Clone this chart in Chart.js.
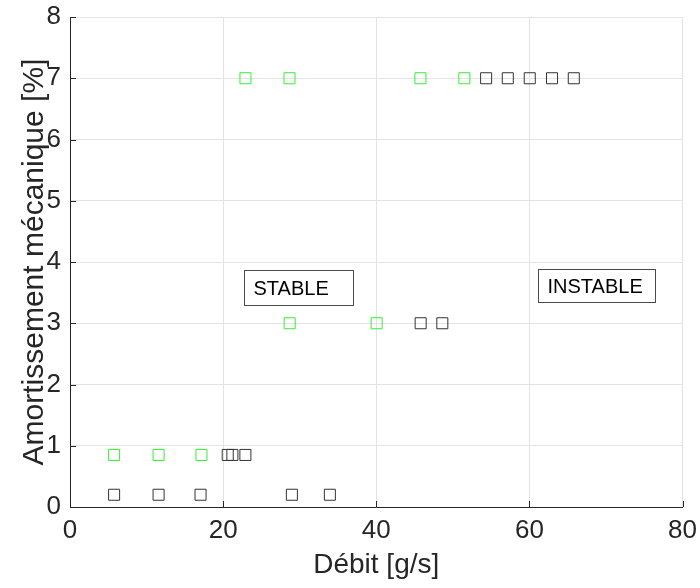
<!DOCTYPE html>
<html><head><meta charset="utf-8">
<script src="https://cdn.jsdelivr.net/npm/chart.js@4.4.1/dist/chart.umd.min.js"></script>
<style>html,body{margin:0;padding:0;background:#fff;}</style>
</head><body>
<canvas id="c" width="700" height="588"></canvas>
<script>
// Stable points (green)
const stableDebit = [5.76, 11.57, 17.17, 28.69, 40.05, 22.92, 28.67, 45.77, 51.51];
const stableAmort = [0.85, 0.85, 0.85, 3, 3, 7, 7, 7, 7];
// Unstable points (black)
const instableDebit = [5.76, 11.57, 17.05, 28.98, 33.94, 20.60, 21.21, 22.91, 45.80, 48.63, 54.35, 57.18, 60.05, 62.96, 65.80];
const instableAmort = [0.2, 0.2, 0.2, 0.2, 0.2, 0.85, 0.85, 0.85, 3, 3, 7, 7, 7, 7, 7];
// Axis ticks
const xTicks = [0, 20, 40, 60, 80];
const yTicks = [0, 1, 2, 3, 4, 5, 6, 7, 8];
// Text labels
const xTitle = 'Débit [g/s]';
const yTitle = 'Amortissement mécanique [%]';
const regionLabels = ['STABLE', 'INSTABLE'];

const FONT = "'Liberation Sans', Arial, Helvetica, sans-serif";
const AXIS_COLOR = '#262626';

// annotation box extents in data units
const regionBoxes = [
  {x0: 22.75, x1: 36.98, y0: 3.30, y1: 3.87},
  {x0: 61.14, x1: 76.42, y0: 3.35, y1: 3.89}
];

const toPts = (xs, ys) => xs.map((x, i) => ({x: x, y: ys[i]}));

const tickMarks = {
  id: 'tickMarks',
  afterDraw(chart) {
    const {ctx, chartArea, scales} = chart;
    ctx.save();
    ctx.strokeStyle = AXIS_COLOR;
    ctx.lineWidth = 1;
    ctx.beginPath();
    xTicks.forEach(v => {
      const px = Math.round(scales.x.getPixelForValue(v)) + 0.5;
      ctx.moveTo(px, chartArea.bottom);
      ctx.lineTo(px, chartArea.bottom - 6);
    });
    yTicks.forEach(v => {
      const py = Math.round(scales.y.getPixelForValue(v)) + 0.5;
      ctx.moveTo(chartArea.left, py);
      ctx.lineTo(chartArea.left + 6, py);
    });
    ctx.stroke();
    ctx.restore();
  }
};

const regions = {
  id: 'regions',
  afterDatasetsDraw(chart) {
    const {ctx, scales} = chart;
    ctx.save();
    regionBoxes.forEach((b, i) => {
      const l = Math.round(scales.x.getPixelForValue(b.x0)) + 0.5;
      const r = Math.round(scales.x.getPixelForValue(b.x1)) + 0.5;
      const t = Math.round(scales.y.getPixelForValue(b.y1)) + 0.5;
      const bt = Math.round(scales.y.getPixelForValue(b.y0)) + 0.5;
      ctx.fillStyle = '#ffffff';
      ctx.fillRect(l, t, r - l, bt - t);
      ctx.strokeStyle = '#4a4a4a';
      ctx.lineWidth = 1;
      ctx.strokeRect(l, t, r - l, bt - t);
      ctx.fillStyle = '#000000';
      ctx.font = '20px ' + FONT;
      ctx.textAlign = 'left';
      ctx.textBaseline = 'middle';
      ctx.fillText(regionLabels[i], l + 9, (t + bt) / 2 + 1);
    });
    ctx.restore();
  }
};

new Chart(document.getElementById('c'), {
  type: 'scatter',
  data: {
    datasets: [
      {
        label: 'stable',
        data: toPts(stableDebit, stableAmort),
        pointStyle: 'rect',
        pointRadius: 7.8,
        pointHoverRadius: 7.8,
        borderWidth: 1,
        borderColor: 'rgb(50,240,50)',
        backgroundColor: 'rgba(0,0,0,0)',
        showLine: false
      },
      {
        label: 'instable',
        data: toPts(instableDebit, instableAmort),
        pointStyle: 'rect',
        pointRadius: 7.8,
        pointHoverRadius: 7.8,
        borderWidth: 1,
        borderColor: '#333333',
        backgroundColor: 'rgba(0,0,0,0)',
        showLine: false
      }
    ]
  },
  options: {
    responsive: false,
    devicePixelRatio: 1,
    animation: false,
    events: [],
    layout: {padding: {top: 17, right: 17.5, left: 0, bottom: 0}},
    plugins: {legend: {display: false}, tooltip: {enabled: false}},
    scales: {
      x: {
        type: 'linear',
        min: 0, max: 80,
        afterBuildTicks: s => { s.ticks = xTicks.map(v => ({value: v})); },
        afterFit: s => { s.height = 81; s.paddingLeft = 0; s.paddingRight = 0; },
        ticks: {
          color: AXIS_COLOR,
          font: {family: FONT, size: 26},
          padding: 8,
          maxRotation: 0,
          autoSkip: false
        },
        grid: {color: '#e3e3e3', lineWidth: 1, drawTicks: false},
        border: {display: true, color: AXIS_COLOR, width: 1},
        title: {
          display: true,
          text: xTitle,
          color: AXIS_COLOR,
          font: {family: FONT, size: 28},
          padding: {top: 0, bottom: 6}
        }
      },
      y: {
        type: 'linear',
        min: 0, max: 8,
        afterBuildTicks: s => { s.ticks = yTicks.map(v => ({value: v})); },
        afterFit: s => { s.width = 70; s.paddingTop = 0; s.paddingBottom = 0; },
        ticks: {
          color: AXIS_COLOR,
          font: {family: FONT, size: 26},
          padding: 9,
          autoSkip: false
        },
        grid: {color: '#e3e3e3', lineWidth: 1, drawTicks: false},
        border: {display: true, color: AXIS_COLOR, width: 1},
        title: {
          display: true,
          text: yTitle,
          color: AXIS_COLOR,
          font: {family: FONT, size: 30},
          padding: {top: 17, bottom: 0}
        }
      }
    }
  },
  plugins: [regions, tickMarks]
});
</script>
</body></html>
